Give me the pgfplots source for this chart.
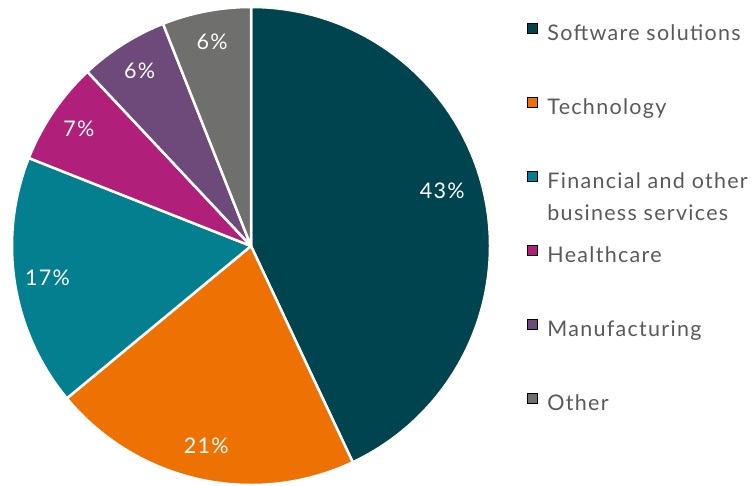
\documentclass[border=0pt]{standalone}
\usepackage{fontspec}
\setmainfont{Lato}[LetterSpace=6]
\usepackage{pgfplots}
\usepackage{pgfplotstable}
\pgfplotsset{compat=1.18}

\definecolor{cSoft}{HTML}{00444F}
\definecolor{cTech}{HTML}{EE7203}
\definecolor{cFin}{HTML}{037F8F}
\definecolor{cHealth}{HTML}{B0207A}
\definecolor{cManu}{HTML}{6E4A7B}
\definecolor{cOther}{HTML}{6F6F6E}
\definecolor{txtgray}{HTML}{595959}

% share of each sector, in percent, clockwise from 12 o'clock
% lrad / ladd: where the percentage label sits (radius, angle nudge)
\pgfplotstableread{
value col     lrad ladd
43    cSoft   199  3.5
21    cTech   205  0
17    cFin    206  0
7     cHealth 208  0
6     cManu   208  0
6     cOther  208  0
}\piedata

\begin{document}
\begin{tikzpicture}[font=\fontsize{21.5}{32}\selectfont]
\begin{axis}[
    name=ax,
    scale only axis, width=754pt, height=485pt,
    xmin=0, xmax=754, ymin=0, ymax=485,
    hide axis, clip=false,
    legend image code/.code={\fill[#1] (0pt,-0.5pt) rectangle (10pt,9.5pt);},
    legend cell align=left,
    legend style={at={(axis cs:527,462)}, anchor=north west,
      draw=none, fill=none, inner sep=0pt, outer sep=0pt,
      row sep=56.5pt, column sep=10pt,
      nodes={inner sep=0pt, text=txtgray, text height=15.5pt, text depth=0pt}},
  ]
  \pgfplotsextra{
    \pgfplotstablegetrowsof{\piedata}
    \pgfmathtruncatemacro\lastrow{\pgfplotsretval-1}
    \xdef\angA{90}
    \foreach \i in {0,...,\lastrow}{
      \pgfplotstablegetelem{\i}{value}\of\piedata \let\sval=\pgfplotsretval
      \pgfplotstablegetelem{\i}{col}\of\piedata \let\scol=\pgfplotsretval
      \pgfplotstablegetelem{\i}{lrad}\of\piedata \let\srad=\pgfplotsretval
      \pgfplotstablegetelem{\i}{ladd}\of\piedata \let\sadd=\pgfplotsretval
      \pgfmathsetmacro\angB{\angA-3.6*\sval}
      \pgfmathsetmacro\angM{(\angA+\angB)/2+\sadd}
      \fill[fill=\scol, draw=white, line width=2.5pt, line join=round]
        (axis cs:251,239) -- ++(\angA:239pt)
        arc[start angle=\angA, end angle=\angB, radius=239pt] -- cycle;
      \path (axis cs:251,239) ++(\angM:\srad pt) node[text=white] {\sval\%};
      \xdef\angA{\angB}
    }
  }
  \addlegendimage{fill=cSoft}
  \addlegendentry{Software solutions}
  \addlegendimage{fill=cTech}
  \addlegendentry{Technology}
  \addlegendimage{fill=cFin}
  \addlegendentry{\vtop{\hbox{Financial and other}\hbox{business services}}}
  \addlegendimage{fill=cHealth}
  \addlegendentry{Healthcare}
  \addlegendimage{fill=cManu}
  \addlegendentry{Manufacturing}
  \addlegendimage{fill=cOther}
  \addlegendentry{Other}
\end{axis}
\pgfresetboundingbox
\path (ax.south west) rectangle (ax.north east);
\end{tikzpicture}
\end{document}
